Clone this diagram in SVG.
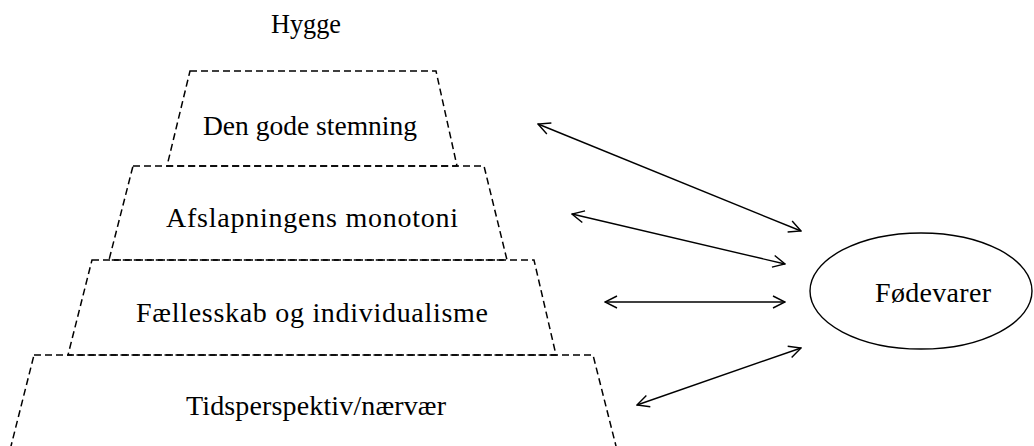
<svg xmlns="http://www.w3.org/2000/svg" width="1034" height="446" viewBox="0 0 1034 446">
  <style>
    .tier { fill: none; stroke: #000; stroke-width: 1.5; stroke-dasharray: 7 4; }
    .lbl { font-family: "Liberation Serif", "Times New Roman", serif; font-size: 28px; fill: #000; text-anchor: middle; }
    .link { fill: none; stroke: #000; stroke-width: 1.4; marker-start: url(#head); marker-end: url(#head); }
    .node { fill: #fff; stroke: #000; stroke-width: 1.4; }
  </style>
  <defs>
    <marker id="head" viewBox="0 0 14 14" refX="13" refY="7" markerWidth="14" markerHeight="14" markerUnits="userSpaceOnUse" orient="auto-start-reverse">
      <path d="M1,1 L13,7 L1,13" fill="none" stroke="#000" stroke-width="1.4"/>
    </marker>
  </defs>

  <!-- title above the pyramid -->
  <text id="title" class="lbl" x="306" y="33" textLength="70" lengthAdjust="spacingAndGlyphs">Hygge</text>

  <!-- pyramid tiers, top to bottom -->
  <g id="tier1">
    <polygon class="tier" points="190,71 436,71 457,166 167,166"/>
    <text class="lbl" x="310" y="135" textLength="214" lengthAdjust="spacingAndGlyphs">Den gode stemning</text>
  </g>
  <g id="tier2">
    <polygon class="tier" points="133,166 484,166 507,260 109,260"/>
    <text class="lbl" x="312" y="227" textLength="292" lengthAdjust="spacing">Afslapningens monotoni</text>
  </g>
  <g id="tier3">
    <polygon class="tier" points="92,260 534,260 556,355 68,355"/>
    <text class="lbl" x="312" y="322" textLength="352" lengthAdjust="spacing">Fællesskab og individualisme</text>
  </g>
  <g id="tier4">
    <polygon class="tier" points="34,355 593,355 617,450 10,450"/>
    <text class="lbl" x="316" y="415" textLength="260" lengthAdjust="spacing">Tidsperspektiv/nærvær</text>
  </g>

  <!-- food node -->
  <g id="food">
    <ellipse class="node" cx="921" cy="291" rx="111" ry="58"/>
    <text class="lbl" x="933" y="302" textLength="116" lengthAdjust="spacing">Fødevarer</text>
  </g>

  <!-- two-way links between tiers and food -->
  <g id="connectors">
    <line class="link" x1="538" y1="124" x2="801" y2="231"/>
    <line class="link" x1="572" y1="214" x2="785" y2="264"/>
    <line class="link" x1="605" y1="302" x2="785" y2="302"/>
    <line class="link" x1="637" y1="405" x2="801" y2="348"/>
  </g>
</svg>
